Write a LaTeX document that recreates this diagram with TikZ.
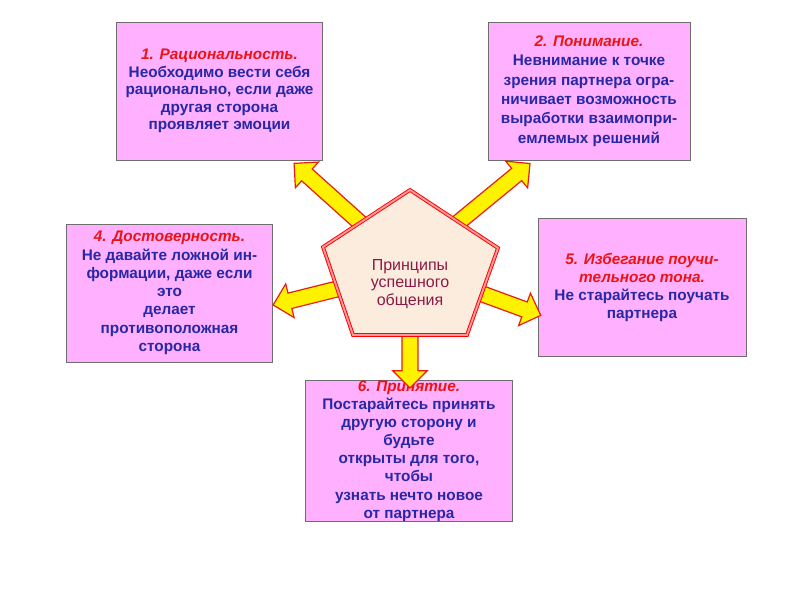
\documentclass[tikz,border=0pt]{standalone}
\usepackage{fontspec}
\setmainfont{Liberation Sans}
\usepackage{tikz}
\usetikzlibrary{calc,shapes.arrows}
\definecolor{boxpink}{RGB}{255,176,255}
\definecolor{boxedge}{RGB}{110,110,110}
\definecolor{titlered}{RGB}{235,20,20}
\definecolor{textblue}{RGB}{40,40,165}
\definecolor{pentfill}{RGB}{252,236,222}
\definecolor{penttext}{RGB}{140,25,70}
\definecolor{arrowred}{RGB}{230,30,20}
\tikzset{
  principle/.style={draw=boxedge, fill=boxpink, line width=0.6pt, minimum width=155pt,
                    minimum height=103.5pt, inner sep=1pt, align=center, text=textblue,
                    font=\fontsize{11.5}{13.7}\selectfont\bfseries},
  blockarrow/.style={single arrow, draw=arrowred, fill=yellow, line width=0.9pt, inner xsep=0pt,
                     inner ysep=5.5pt, single arrow head extend=7pt, single arrow tip angle=90},
  pentagon/.style={draw=red, double=red!40, double distance=1.4pt, line width=0.7pt, fill=pentfill},
  pentlabel/.style={align=center, text=penttext, font=\fontsize{12}{13.1}\selectfont},
}
\newcommand{\ptitle}[1]{{\color{titlered}\itshape #1}}

\begin{document}
\begin{tikzpicture}[x=0.75pt, y=-0.75pt]
  \path[use as bounding box, fill=white] (0,0) rectangle (800,600);

  % corners of the pentagon
  \coordinate (pA) at (410,190);
  \coordinate (pB) at (498,248);
  \coordinate (pC) at (467,335);
  \coordinate (pD) at (353,335);
  \coordinate (pE) at (323,247);

  \node[principle, font=\fontsize{11.5}{13.1}\selectfont\bfseries] (rational) at (219.5,91)
    {\ptitle{1. Рациональность.}\\Необходимо вести себя\\рационально, если даже\\другая сторона\\проявляет эмоции};
  \node[principle, minimum width=151.5pt, font=\fontsize{11.5}{14.5}\selectfont\bfseries] (understand) at (589,91)
    {\ptitle{2. Понимание.}\\Невнимание к точке\\зрения партнера огра-\\ничивает возможность\\выработки взаимопри-\\емлемых решений};
  \node[principle] (reliable) at (169.5,293)
    {\ptitle{4. Достоверность.}\\Не давайте ложной ин-\\формации, даже если\\это\\делает\\противоположная\\сторона};
  \node[principle, minimum width=156pt] (tone) at (642,287.5)
    {\ptitle{5. Избегание поучи-}\\\ptitle{тельного тона.}\\Не старайтесь поучать\\партнера};
  \node[principle, inner sep=0pt, font=\fontsize{11.5}{13.6}\selectfont\bfseries] (accept) at (409,451)
    {\ptitle{6. Принятие.}\\Постарайтесь принять\\другую сторону и\\будьте\\открыты для того,\\чтобы\\узнать нечто новое\\от партнера};

  \coordinate (t1) at (366,228);  \coordinate (h1) at (297,166);
  \coordinate (t2) at (454,226);  \coordinate (h2) at (527,166);
  \coordinate (t4) at (341,288);  \coordinate (h4) at (277,304);
  \coordinate (t5) at (477,292);  \coordinate (h5) at (537,314);
  \coordinate (t6) at (410,330);  \coordinate (h6) at (410,384);
  \foreach \a/\b in {t1/h1,t2/h2,t4/h4,t5/h5,t6/h6}
    \path let \p1=($(\b)-(\a)$) in
      node[blockarrow, minimum height={veclen(\x1,\y1)}, rotate={atan2(\y1,\x1)}] (arr\a) at ($(\a)!0.5!(\b)$) {};

  \filldraw[pentagon] (pA) -- (pB) -- (pC) -- (pD) -- (pE) -- cycle;
  \node[pentlabel] (core) at (410,284) {Принципы\\успешного\\общения};
\end{tikzpicture}
\end{document}
